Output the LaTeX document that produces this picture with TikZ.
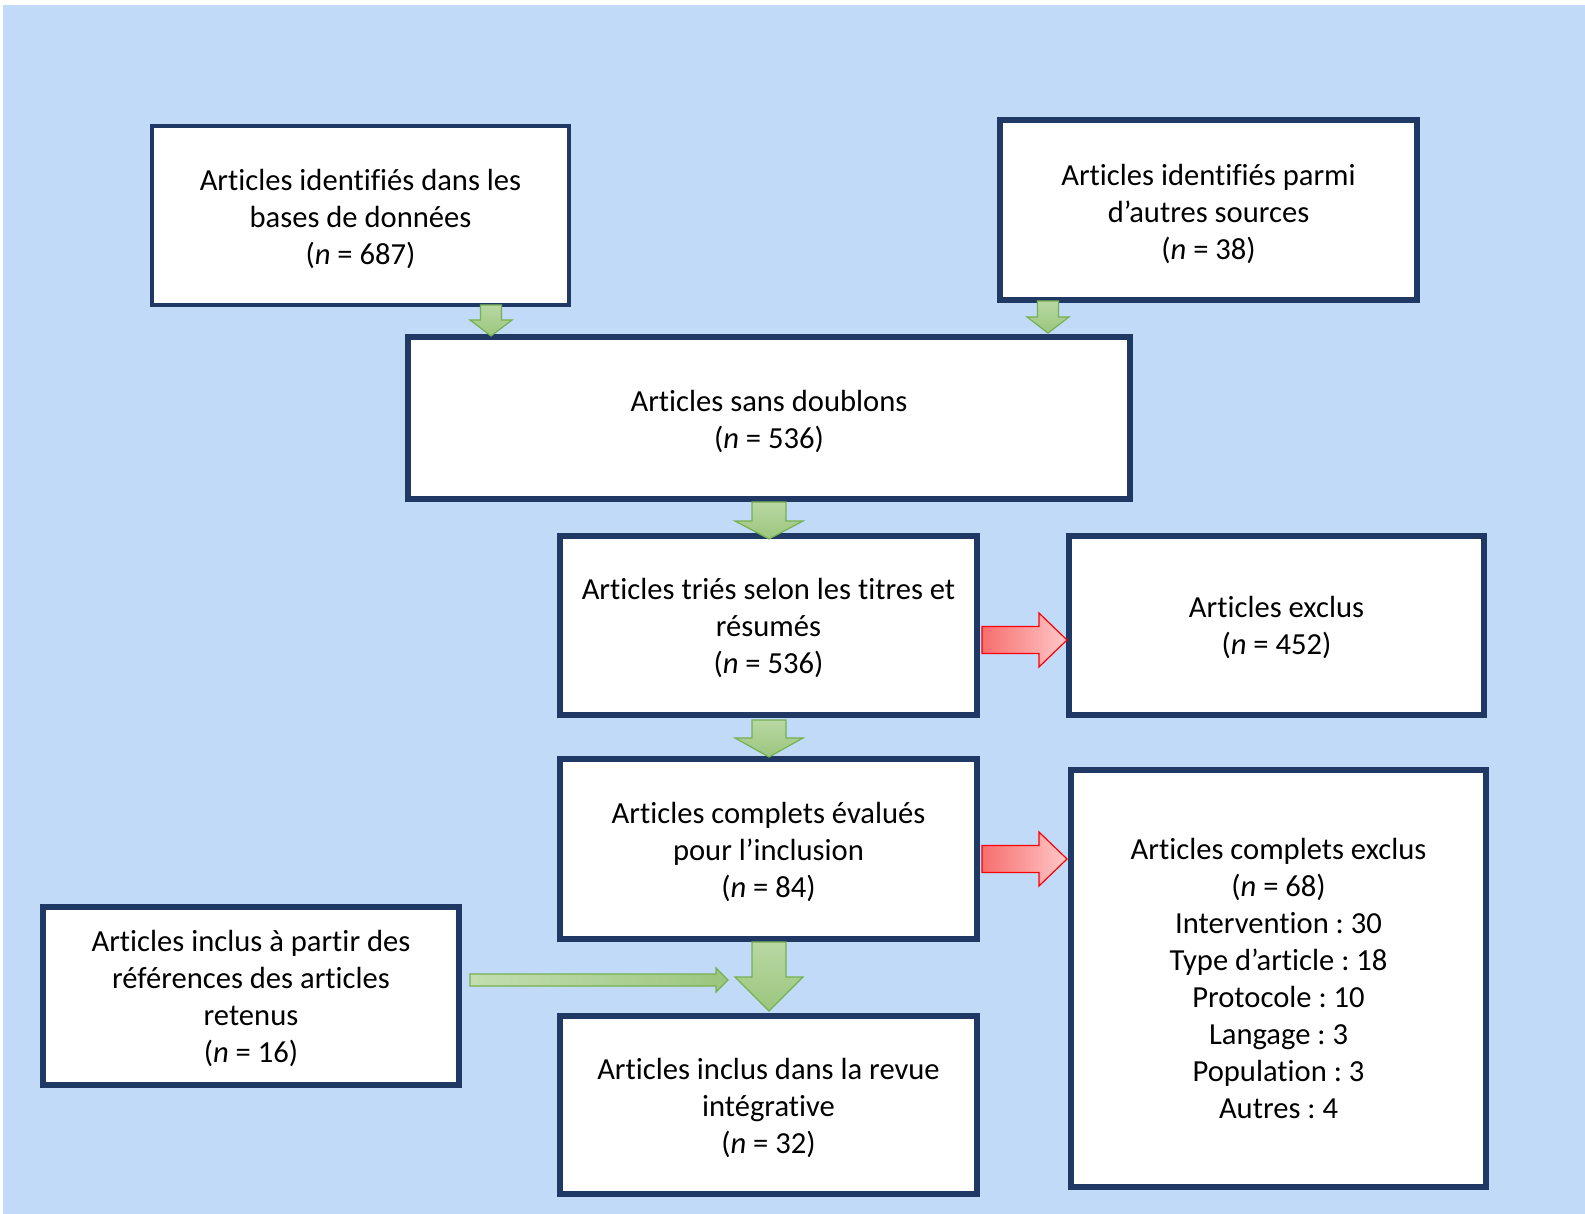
\documentclass[tikz,border=0pt]{standalone}
\usepackage{fontspec}
\setmainfont[Ligatures=NoCommon]{Carlito}
\frenchspacing
\definecolor{bgblue}{RGB}{192,218,248}
\definecolor{navy}{RGB}{31,56,100}
\definecolor{gtop}{RGB}{184,216,163}
\definecolor{gbot}{RGB}{155,198,126}
\definecolor{gline}{RGB}{118,176,80}
\definecolor{rdark}{RGB}{246,110,110}
\definecolor{rlight}{RGB}{255,200,200}
\newcommand\gdown[6]{%
  \path[garrow,top color=gtop,bottom color=gbot] ({#1-#2},#4) -- ({#1+#2},#4) -- ({#1+#2},#5) -- ({#1+#3},#5) -- (#1,#6) -- ({#1-#3},#5) -- ({#1-#2},#5) -- cycle;}
\newcommand\rright[6]{%
  \path[rarrow] (#1,{#6-#2}) -- (#3,{#6-#2}) -- (#3,{#6-#4}) -- (#5,#6) -- (#3,{#6+#4}) -- (#3,{#6+#2}) -- (#1,{#6+#2}) -- cycle;}
\begin{document}
\begin{tikzpicture}[x=0.5pt,y=-0.5pt,
  box/.style={draw=navy,fill=white,line width=3pt,inner sep=0pt},
  txt/.style={inner sep=0pt,align=center,font=\fontsize{15.3}{18.5}\selectfont\frenchspacing},
  garrow/.style={draw=gline,line width=0.6pt},
  rarrow/.style={draw=red,line width=0.6pt,left color=rdark,right color=rlight}]
\useasboundingbox (0,0) rectangle (1585,1214);
\fill[white] (0,0) rectangle (1585,1214);
\fill[bgblue] (3,5) rectangle (1585,1214);
% boxes
\node[box,line width=2pt,minimum width=208.5pt,minimum height=89.5pt] (A) at (360.5,215.5) {};
\node[box,minimum width=208.5pt,minimum height=90pt] (B) at (1208.5,210) {};
\node[box,minimum width=361pt,minimum height=81pt] (C) at (769,418) {};
\node[box,minimum width=208.5pt,minimum height=89.5pt] (D) at (768.5,625.5) {};
\node[box,minimum width=207.5pt,minimum height=89.5pt] (E) at (1276.5,625.5) {};
\node[box,minimum width=208.5pt,minimum height=90pt] (F) at (768.5,849) {};
\node[box,minimum width=207.5pt,minimum height=208.5pt] (G) at (1278.5,978.5) {};
\node[box,minimum width=208pt,minimum height=89pt] (H) at (251,996) {};
\node[box,minimum width=208.5pt,minimum height=89pt] (I) at (768.5,1105) {};
% texts
\node[txt] (At) at ([yshift=-1.7pt]A.center) {Articles identifiés dans les\\bases de données\\(\textit{n} = 687)};
\node[txt] (Bt) at ([yshift=-1.8pt]B.center) {Articles identifiés parmi\\d’autres sources\\(\textit{n} = 38)};
\node[txt] (Ct) at ([yshift=-1.5pt]C.center) {Articles sans doublons\\(\textit{n} = 536)};
\node[txt] (Dt) at ([yshift=-1pt]D.center) {Articles triés selon les titres et\\résumés\\(\textit{n} = 536)};
\node[txt] (Et) at ([yshift=-1pt]E.center) {Articles exclus\\(\textit{n} = 452)};
\node[txt] (Ft) at ([yshift=-1.6pt]F.center) {Articles complets évalués\\pour l’inclusion\\(\textit{n} = 84)};
\node[txt] (Gt) at ([yshift=0pt]G.center) {Articles complets exclus\\(\textit{n} = 68)\\Intervention : 30\\Type d’article : 18\\Protocole : 10\\Langage : 3\\Population : 3\\Autres : 4};
\node[txt] (Ht) at ([yshift=-1pt]H.center) {Articles inclus à partir des\\références des articles\\retenus\\(\textit{n} = 16)};
\node[txt] (It) at ([yshift=-1.5pt]I.center) {Articles inclus dans la revue\\intégrative\\(\textit{n} = 32)};
% green down arrows
\gdown{491}{10.5}{21}{305}{320}{336}
\gdown{1048}{10.5}{21}{301}{317}{333}
\gdown{769}{17}{34}{502}{521}{539}
\gdown{769}{17}{34}{720}{738}{757}
\gdown{769}{17}{34}{942}{977}{1011}
% green horizontal arrow
\path[garrow,left color=gtop!85!white,right color=gbot]
  (470,974) -- (716,974) -- (716,968) -- (728,980) -- (716,992) -- (716,986) -- (470,986) -- cycle;
% red arrows
\rright{982}{13.5}{1039}{27}{1067}{640}
\rright{982}{13.5}{1039}{27}{1067}{859}
\end{tikzpicture}
\end{document}
